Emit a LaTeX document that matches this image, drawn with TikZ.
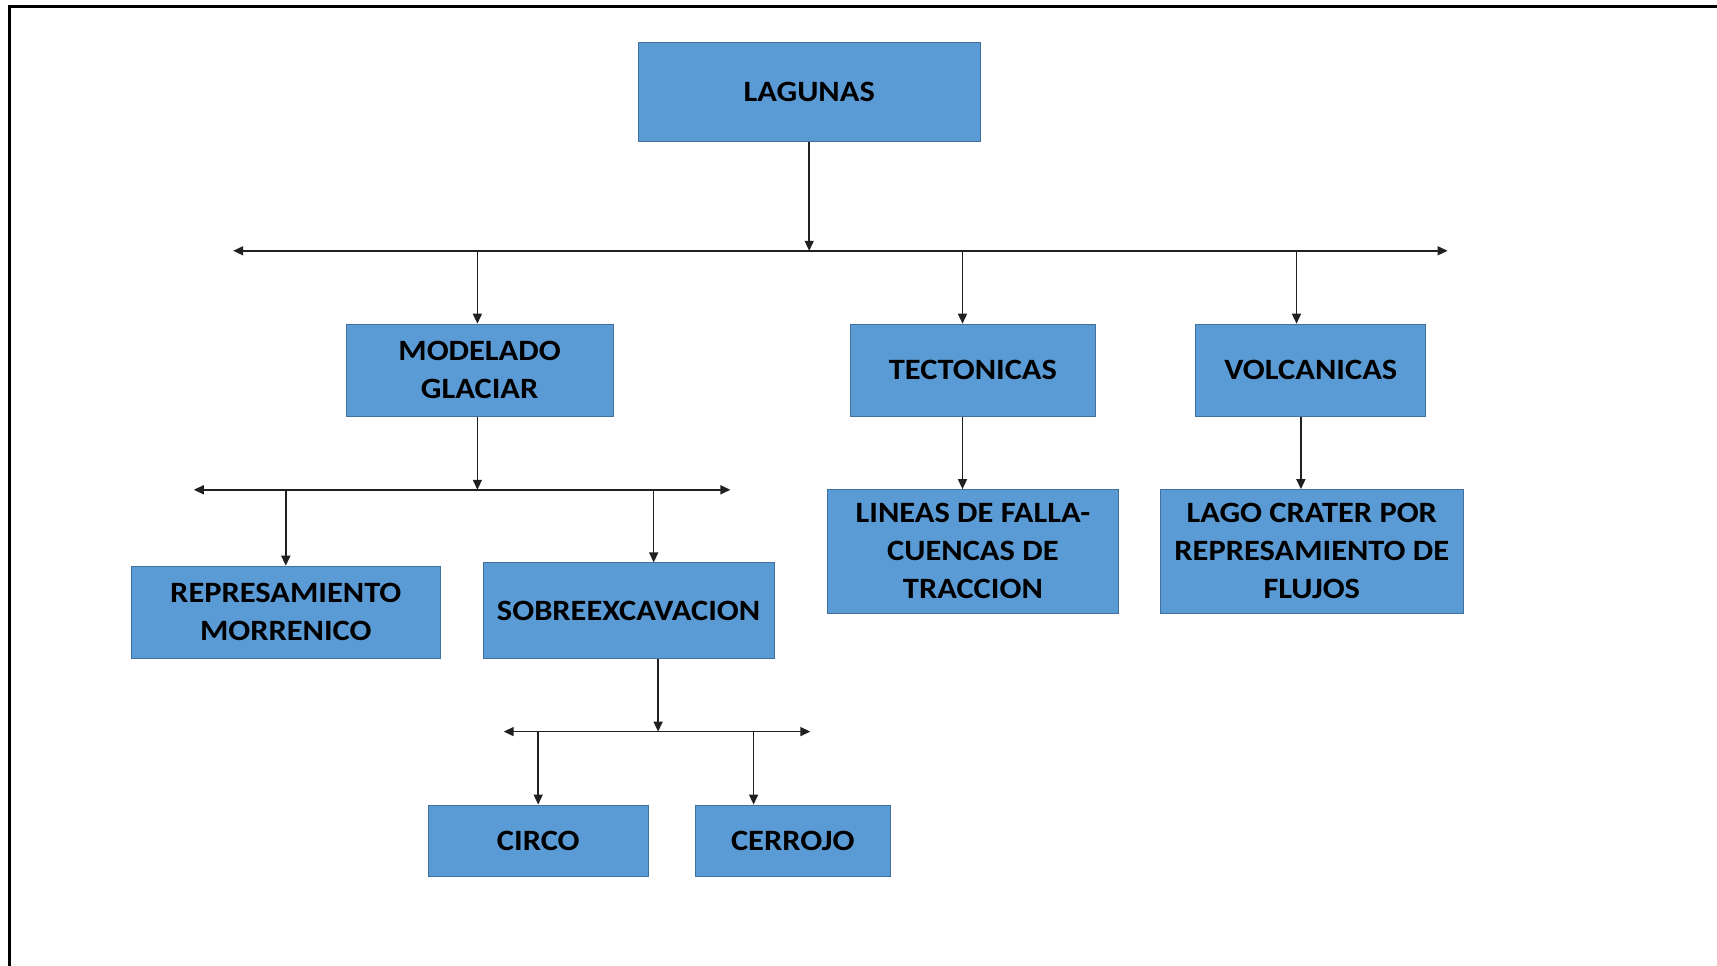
\documentclass[tikz,border=0pt]{standalone}
\usepackage{fontspec}
\setmainfont{Carlito}[FakeStretch=1.1]
\usetikzlibrary{arrows.meta}
\definecolor{boxfill}{HTML}{5B9BD5}
\definecolor{boxline}{HTML}{41719C}
\definecolor{linkcol}{HTML}{202020}
\tikzset{
  catbox/.style={draw=boxline, line width=0.8pt, fill=boxfill, rectangle,
    inner sep=0pt, align=center, text=black,
    font=\fontsize{29.5}{38}\selectfont\bfseries},
  link/.style={draw=linkcol, line width=1.5pt,
    -{Triangle[length=10pt,width=9pt]}},
  busbar/.style={draw=linkcol, line width=1.5pt,
    {Triangle[length=10pt,width=9pt]}-{Triangle[length=10pt,width=9pt]}}
}
\begin{document}
\begin{tikzpicture}[x=1pt,y=-1pt]
\useasboundingbox (0,0) rectangle (1717,966);
% page frame
\draw[line width=2.2pt, black] (9.5,966) -- (9.5,6.5) -- (1717,6.5);

% boxes
\node[catbox, minimum width=341.6pt, minimum height=98.6pt] (lagunas) at (809.2,92) {LAGUNAS};
\node[catbox, minimum width=267.2pt, minimum height=92pt] (modelado) at (479.6,370.1) {MODELADO\\GLACIAR};
\node[catbox, minimum width=244.2pt, minimum height=92pt] (tectonicas) at (972.9,370.1) {TECTONICAS};
\node[catbox, minimum width=229.9pt, minimum height=92pt] (volcanicas) at (1310.8,370.1) {VOLCANICAS};
\node[catbox, minimum width=308.8pt, minimum height=92pt] (morrenico) at (285.8,612.1) {REPRESAMIENTO\\MORRENICO};
\node[catbox, minimum width=291.3pt, minimum height=95.3pt] (sobre) at (628.6,610.5) {SOBREEXCAVACION};
\node[catbox, minimum width=290.2pt, minimum height=123.7pt] (lineas) at (972.9,551.4) {LINEAS DE FALLA-\\CUENCAS DE\\TRACCION};
\node[catbox, minimum width=302.2pt, minimum height=123.7pt] (lago) at (1311.8,551.4) {LAGO CRATER POR\\REPRESAMIENTO DE\\FLUJOS};
\node[catbox, minimum width=220.1pt, minimum height=71.1pt] (circo) at (538.3,840.5) {CIRCO};
\node[catbox, minimum width=195pt, minimum height=71.1pt] (cerrojo) at (792.8,840.5) {CERROJO};

% distribution bars
\coordinate (barAl) at (233.2,250.8);
\coordinate (barAr) at (1447.6,250.8);
\coordinate (barBl) at (193.8,489.8);
\coordinate (barBr) at (730.4,489.8);
\coordinate (barCl) at (503.7,731.6);
\coordinate (barCr) at (810.3,731.6);
\draw[busbar] (barAl) -- (barAr);
\draw[busbar] (barBl) -- (barBr);
\draw[busbar] (barCl) -- (barCr);

% feeds into the bars
\draw[link] (lagunas.south) -- (lagunas.south |- barAl);
\draw[link] ([xshift=-2.2pt]modelado.south) -- ([xshift=-2.2pt]modelado.south |- barBl);
\draw[link] ([xshift=29.5pt]sobre.south) -- ([xshift=29.5pt]sobre.south |- barCl);

% drops from the bars
\coordinate (dA1) at (477.4,250.8);
\coordinate (dA2) at (962.5,250.8);
\coordinate (dA3) at (1296.5,250.8);
\draw[link] (dA1) -- (dA1 |- modelado.north);
\draw[link] (dA2) -- (dA2 |- tectonicas.north);
\draw[link] (dA3) -- (dA3 |- volcanicas.north);

\coordinate (dB1) at (285.8,489.8);
\coordinate (dB2) at (653.7,489.8);
\draw[link] (dB1) -- (dB1 |- morrenico.north);
\draw[link] (dB2) -- (dB2 |- sobre.north);

\coordinate (dC1) at (538.2,731.6);
\coordinate (dC2) at (753.6,731.6);
\draw[link] (dC1) -- (dC1 |- circo.north);
\draw[link] (dC2) -- (dC2 |- cerrojo.north);

% direct links below the upper row
\draw[link] ([xshift=-10.4pt]tectonicas.south) -- ([xshift=-10.4pt]tectonicas.south |- lineas.north);
\draw[link] ([xshift=-9.9pt]volcanicas.south) -- ([xshift=-9.9pt]volcanicas.south |- lago.north);
\end{tikzpicture}
\end{document}
